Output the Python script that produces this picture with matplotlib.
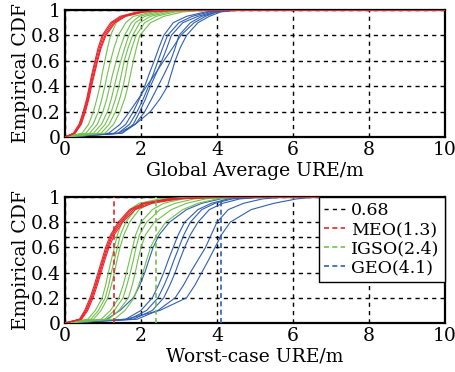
import matplotlib
matplotlib.use("Agg")
import matplotlib.pyplot as plt

plt.rcParams["font.family"] = ["DejaVu Serif"]
plt.rcParams["mathtext.fontset"] = "dejavuserif"

RED, GREEN, BLUE = "#e8262b", "#72c04e", "#2f5faf"

# CDF levels; each curve below gives the URE (m) at which it reaches that level
LEVELS = [0, 0.03, 0.1, 0.2, 0.3, 0.4, 0.5, 0.6, 0.7, 0.8, 0.9, 0.95, 0.985, 1.0, 1.0]

# global average URE, one list per satellite
AVG_MEO = [
    [0, 0.22, 0.37, 0.48, 0.57, 0.64, 0.71, 0.79, 0.87, 0.98, 1.20, 1.45, 1.90, 2.8, 10],
    [0, 0.24, 0.39, 0.50, 0.59, 0.66, 0.73, 0.81, 0.90, 1.01, 1.24, 1.50, 1.95, 2.9, 10],
    [0, 0.26, 0.41, 0.52, 0.61, 0.68, 0.76, 0.84, 0.93, 1.05, 1.28, 1.55, 2.00, 3.0, 10],
    [0, 0.27, 0.43, 0.54, 0.63, 0.70, 0.78, 0.86, 0.95, 1.08, 1.32, 1.60, 2.10, 3.1, 10],
]
AVG_IGSO = [
    [0, 0.45, 0.62, 0.75, 0.84, 0.92, 0.98, 1.05, 1.12, 1.20, 1.35, 1.55, 2.00, 3.0, 10],
    [0, 0.55, 0.74, 0.88, 0.97, 1.05, 1.12, 1.20, 1.29, 1.40, 1.60, 1.80, 2.30, 3.2, 10],
    [0, 0.65, 0.85, 1.00, 1.10, 1.18, 1.26, 1.35, 1.45, 1.57, 1.75, 1.95, 2.45, 3.3, 10],
    [0, 0.75, 0.96, 1.12, 1.22, 1.30, 1.38, 1.47, 1.57, 1.68, 1.85, 2.10, 2.60, 3.4, 10],
    [0, 0.85, 1.06, 1.22, 1.33, 1.42, 1.49, 1.56, 1.66, 1.78, 1.97, 2.25, 2.75, 3.5, 10],
    [0, 0.95, 1.16, 1.33, 1.44, 1.53, 1.60, 1.66, 1.76, 1.87, 2.10, 2.40, 2.90, 3.6, 10],
    [0, 1.05, 1.28, 1.45, 1.57, 1.66, 1.73, 1.80, 1.88, 1.97, 2.25, 2.60, 3.10, 3.8, 10],
]
AVG_GEO = [
    [0, 1.15, 1.45, 1.70, 1.93, 2.15, 2.38, 2.60, 2.83, 3.05, 3.40, 3.70, 4.00, 4.5, 10],
    [0, 1.30, 1.60, 1.80, 1.96, 2.10, 2.22, 2.35, 2.47, 2.60, 2.85, 3.20, 3.70, 4.3, 10],
    [0, 1.40, 1.70, 1.90, 2.06, 2.20, 2.33, 2.45, 2.57, 2.70, 3.00, 3.35, 3.80, 4.4, 10],
    [0, 1.50, 1.80, 1.97, 2.12, 2.25, 2.40, 2.55, 2.68, 2.80, 3.10, 3.50, 3.90, 4.5, 10],
    [0, 1.50, 1.85, 2.10, 2.28, 2.45, 2.62, 2.78, 2.90, 3.00, 3.30, 3.60, 4.00, 4.5, 10],
    [0, 1.40, 1.85, 2.25, 2.50, 2.70, 2.80, 2.90, 3.03, 3.20, 3.50, 3.80, 4.10, 4.6, 10],
]

# worst-case URE
WORST_MEO = [
    [0, 0.38, 0.52, 0.66, 0.77, 0.87, 0.97, 1.07, 1.20, 1.40, 1.70, 2.05, 2.70, 3.8, 10],
    [0, 0.40, 0.55, 0.69, 0.80, 0.90, 1.00, 1.10, 1.23, 1.44, 1.75, 2.10, 2.80, 3.9, 10],
    [0, 0.42, 0.57, 0.71, 0.82, 0.92, 1.02, 1.13, 1.26, 1.48, 1.80, 2.20, 2.90, 4.0, 10],
    [0, 0.44, 0.60, 0.74, 0.85, 0.95, 1.05, 1.16, 1.30, 1.52, 1.85, 2.30, 3.00, 4.2, 10],
]
WORST_IGSO = [
    [0, 0.60, 0.80, 0.98, 1.07, 1.14, 1.22, 1.30, 1.38, 1.50, 1.70, 1.95, 2.50, 3.5, 10],
    [0, 0.68, 0.88, 1.06, 1.15, 1.22, 1.30, 1.38, 1.46, 1.60, 1.85, 2.10, 2.70, 3.6, 10],
    [0, 0.75, 0.95, 1.13, 1.22, 1.30, 1.37, 1.45, 1.55, 1.70, 1.95, 2.25, 2.90, 3.7, 10],
    [0, 0.95, 1.20, 1.42, 1.53, 1.62, 1.70, 1.78, 1.86, 2.00, 2.30, 2.60, 3.10, 3.9, 10],
    [0, 1.05, 1.30, 1.53, 1.63, 1.72, 1.80, 1.87, 1.96, 2.15, 2.50, 2.90, 3.40, 4.1, 10],
    [0, 1.15, 1.42, 1.67, 1.77, 1.85, 1.92, 2.00, 2.12, 2.35, 2.80, 3.20, 3.70, 4.3, 10],
    [0, 1.30, 1.58, 1.82, 1.94, 2.05, 2.15, 2.25, 2.42, 2.65, 3.10, 3.50, 4.00, 4.6, 10],
]
WORST_GEO = [
    [0, 1.10, 1.45, 1.80, 1.97, 2.10, 2.21, 2.32, 2.48, 2.75, 3.20, 3.60, 4.10, 4.8, 10],
    [0, 1.60, 2.00, 2.30, 2.46, 2.60, 2.72, 2.85, 2.98, 3.15, 3.50, 3.85, 4.30, 5.0, 10],
    [0, 1.70, 2.15, 2.45, 2.61, 2.75, 2.87, 3.00, 3.13, 3.30, 3.60, 3.95, 4.40, 5.1, 10],
    [0, 1.80, 2.30, 2.60, 2.76, 2.90, 3.02, 3.15, 3.30, 3.50, 3.80, 4.15, 4.60, 5.3, 10],
    [0, 1.90, 2.45, 2.90, 3.12, 3.30, 3.50, 3.70, 3.85, 4.00, 4.30, 4.70, 5.20, 5.8, 10],
    [0, 1.60, 2.50, 3.20, 3.42, 3.60, 3.78, 3.95, 4.12, 4.35, 4.90, 5.50, 6.10, 6.6, 10],
]

CONF_LEVEL = 0.68
REF_LABELS = ["MEO", "IGSO", "GEO"]
REF_VALUES = [1.3, 2.4, 4.1]

XTICKS = [0, 2, 4, 6, 8, 10]
YTICKS = [0, 0.2, 0.4, 0.6, 0.8, 1]
YTICKLABELS = ["0", "0.2", "0.4", "0.6", "0.8", "1"]

FS = 13.5


def style_axes(ax, xlabel):
    ax.set_xlim(0, 10)
    ax.set_ylim(0, 1)
    ax.set_xticks(XTICKS)
    ax.set_yticks(YTICKS)
    ax.set_yticklabels(YTICKLABELS)
    ax.tick_params(labelsize=FS, length=0, pad=3)
    ax.grid(True, color="black", linestyle=(0, (3, 3)), linewidth=1.0)
    for s in ax.spines.values():
        s.set_linewidth(1.6)
    ax.set_xlabel(xlabel, fontsize=FS, labelpad=2)
    ax.set_ylabel("Empirical CDF", fontsize=FS, labelpad=1)


def draw_group(ax, curves, color):
    for xs in curves:
        ax.plot(xs, LEVELS, color=color, linewidth=0.8, zorder=3)


fig = plt.figure(figsize=(4.56, 3.72), dpi=100)
ax1 = fig.add_axes([0.1425, 0.6317, 0.833, 0.3414])
ax2 = fig.add_axes([0.1425, 0.1317, 0.833, 0.3387])

draw_group(ax1, AVG_GEO, BLUE)
draw_group(ax1, AVG_IGSO, GREEN)
draw_group(ax1, AVG_MEO, RED)
style_axes(ax1, "Global Average URE/m")

draw_group(ax2, WORST_GEO, BLUE)
draw_group(ax2, WORST_IGSO, GREEN)
draw_group(ax2, WORST_MEO, RED)
ax2.axhline(CONF_LEVEL, color="black", linestyle=(0, (3, 3)), linewidth=1.0,
            label=f"{CONF_LEVEL:.2f}", zorder=2)
for name, val, col in zip(REF_LABELS, REF_VALUES, [RED, GREEN, BLUE]):
    ax2.axvline(val, color=col, linestyle=(0, (3, 2)), linewidth=1.2,
                label=f"{name}({val})", zorder=4)
style_axes(ax2, "Worst-case URE/m")

leg = ax2.legend(loc="upper right", fontsize=12.5, frameon=True, fancybox=False,
                 borderaxespad=0, handlelength=1.2, handletextpad=0.35,
                 labelspacing=0.12, borderpad=0.3, framealpha=1)
leg.get_frame().set_edgecolor("black")
leg.get_frame().set_linewidth(1.0)
leg.set_zorder(10)

fig.savefig("out.png", dpi=100)
